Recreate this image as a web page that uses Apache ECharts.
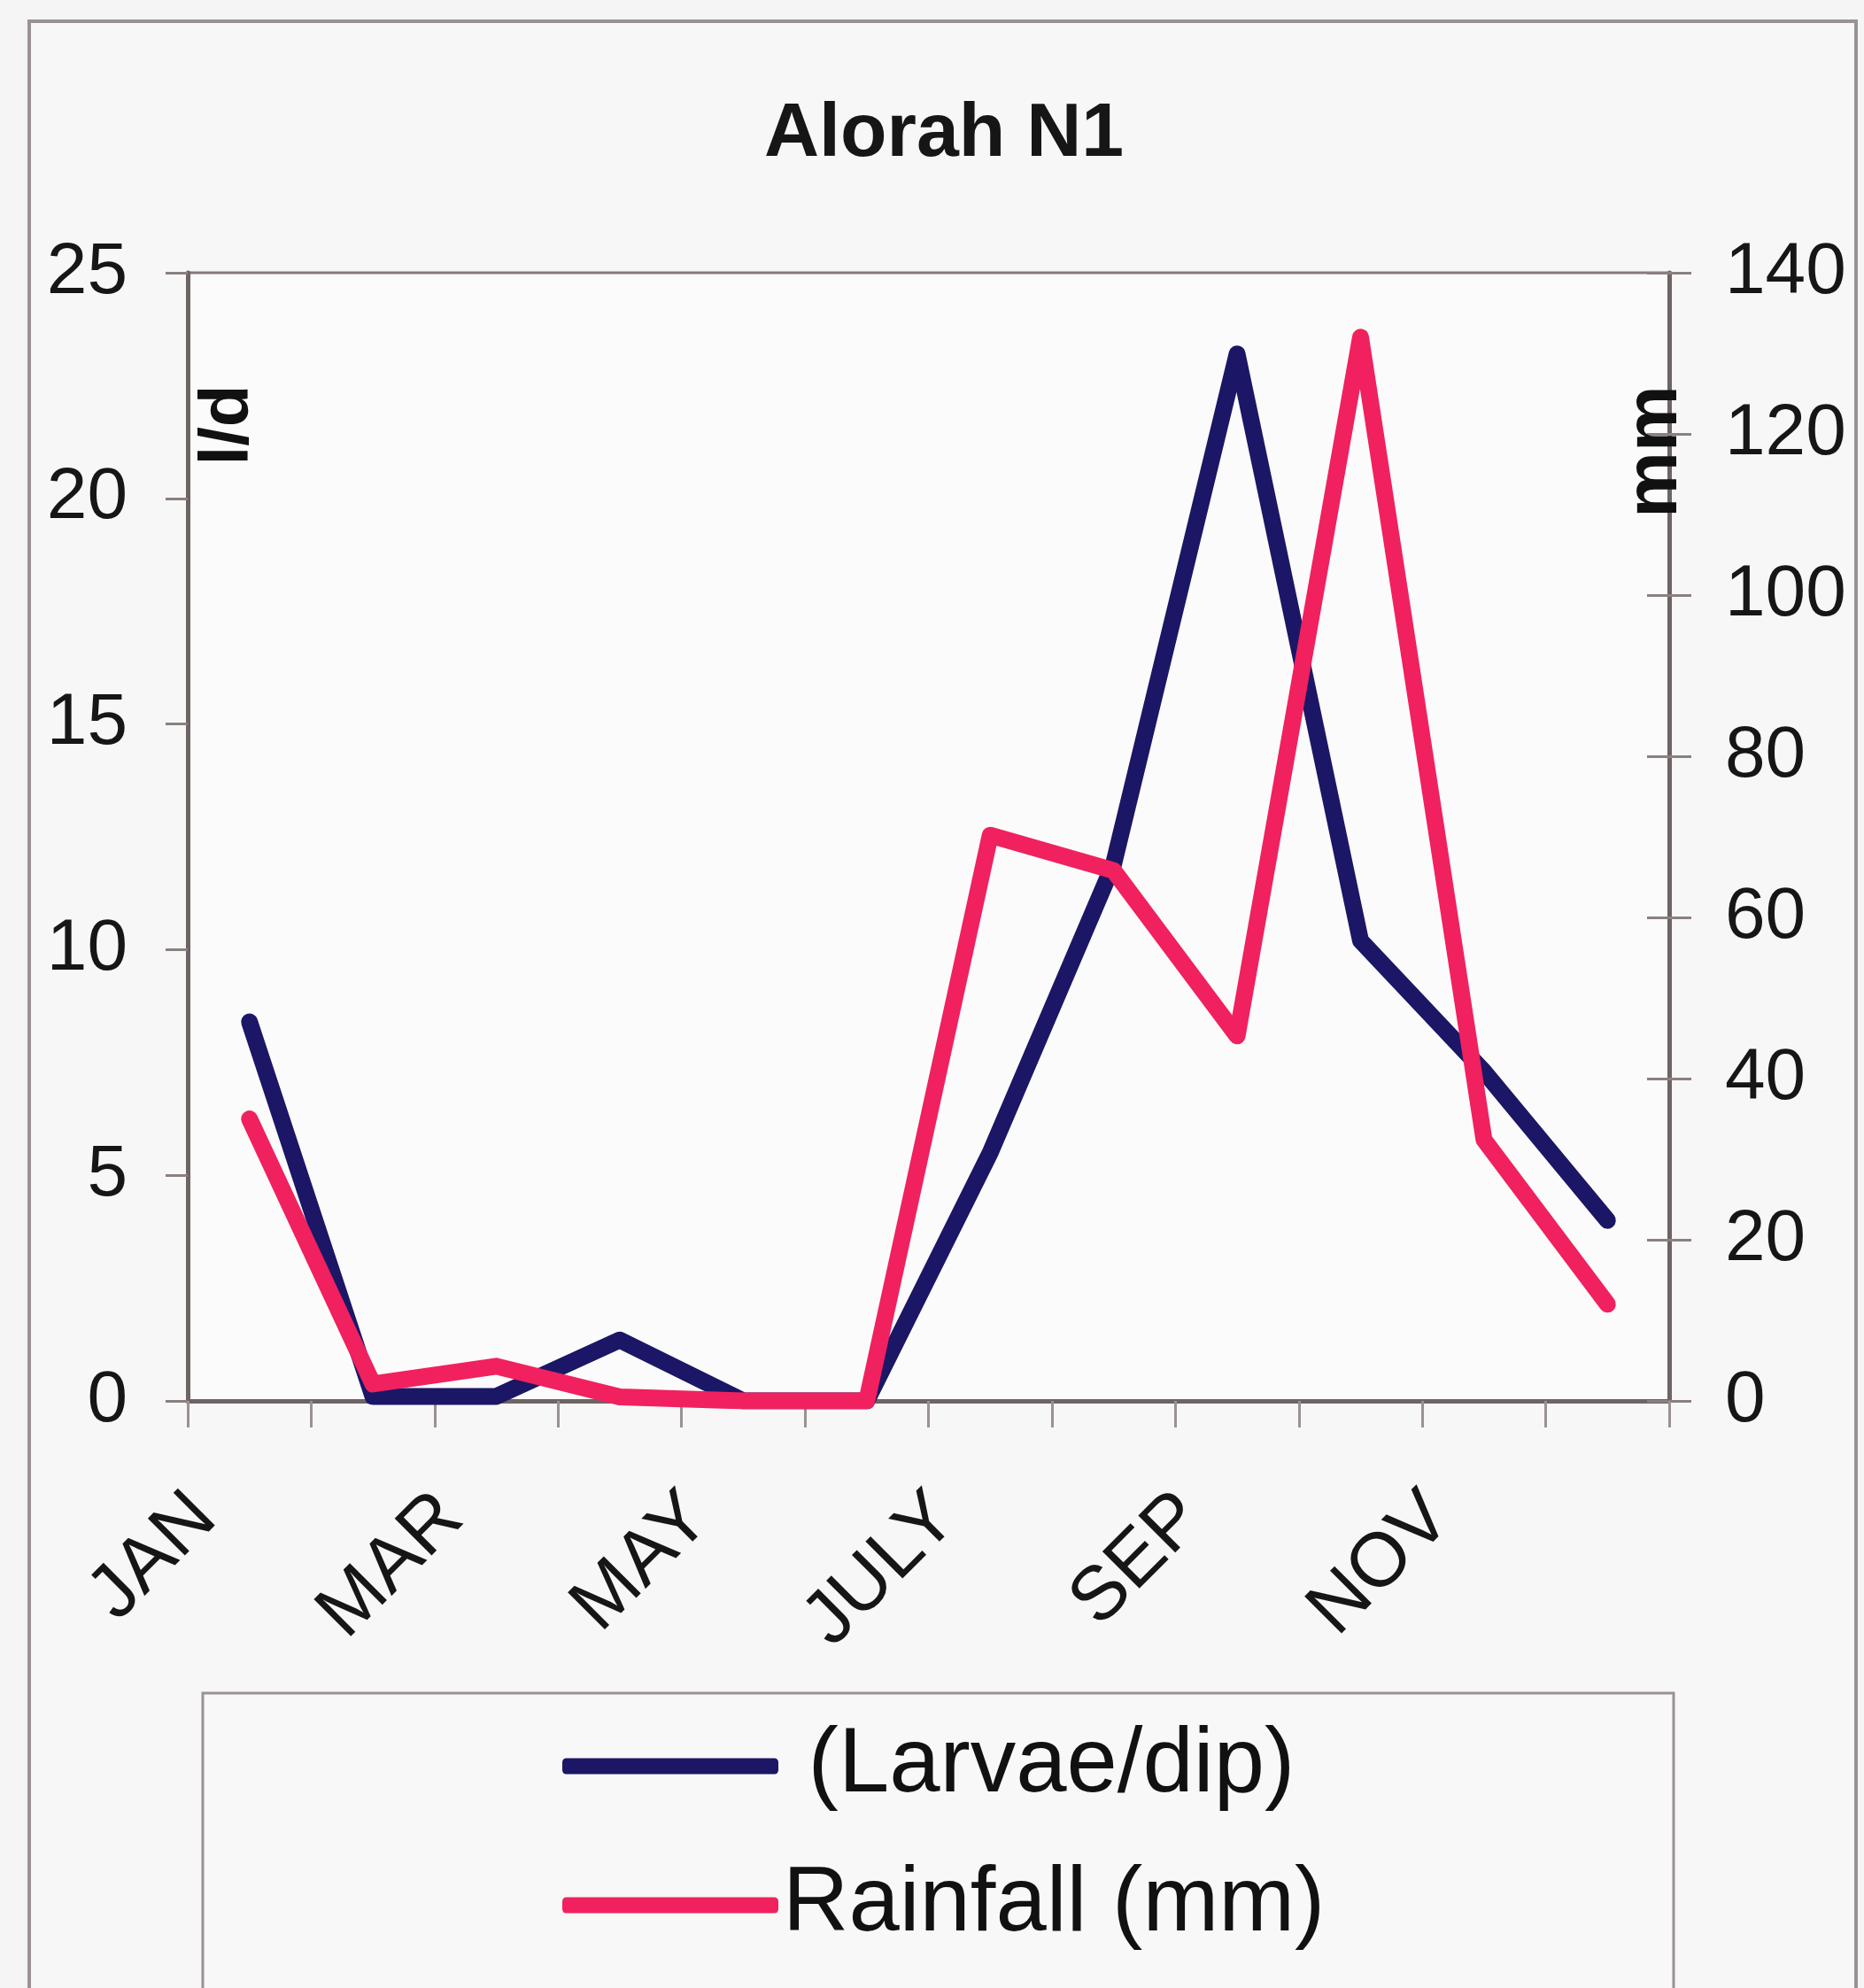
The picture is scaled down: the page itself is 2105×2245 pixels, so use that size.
<!DOCTYPE html>
<html>
<head>
<meta charset="utf-8">
<script src="https://cdn.jsdelivr.net/npm/echarts@6/dist/echarts.min.js"></script>
<style>
html,body{margin:0;padding:0;background:#f6f5f5;}
#chart{width:2105px;height:2245px;}
</style>
</head>
<body>
<div id="chart"></div>
<script>
var months = ['JAN','FEB','MAR','APR','MAY','JUNE','JULY','AUG','SEP','OCT','NOV','DEC'];
var larvae = [8.4, 0.1, 0.1, 1.35, 0, 0, 5.5, 11.9, 23.2, 10.2, 7.3, 4.0];
var rainfall = [35, 2.1, 4.3, 0.5, 0, 0, 70.2, 65.8, 45.3, 132, 32.4, 12];
var leftTicks = [0, 5, 10, 15, 20, 25];
var rightTicks = [0, 20, 40, 60, 80, 100, 120, 140];
var larvaeName = ' (Larvae/dip)';
var rainName = 'Rainfall (mm)';

var FONT = '"Liberation Sans", Arial, sans-serif';
var chart = echarts.init(document.getElementById('chart'), null, {renderer: 'canvas'});
chart.setOption({
  backgroundColor: '#f6f5f5',
  animation: false,
  title: {
    text: 'Alorah N1',
    left: 858, top: 104,
    textStyle: {fontFamily: FONT, fontSize: 86, fontWeight: 'bold', color: '#161616'}
  },
  graphic: [
    {type: 'rect', z: -10, shape: {x: 33, y: 24, width: 2063, height: 2260},
     style: {fill: '#f8f7f7', stroke: '#9a9292', lineWidth: 4}},
    {type: 'rect', z: -5, shape: {x: 229, y: 1912, width: 1661, height: 400},
     style: {fill: '#f9f8f8', stroke: '#9a9292', lineWidth: 3}},
    {type: 'text', z: 10, x: 258, y: 480, rotation: Math.PI / 2,
     style: {text: 'l/d', fontFamily: FONT, fontSize: 78, fontWeight: 'bold', fill: '#111',
             textAlign: 'center', textVerticalAlign: 'middle'}},
    {type: 'text', z: 10, x: 1870, y: 510, rotation: Math.PI / 2,
     style: {text: 'mm', fontFamily: FONT, fontSize: 84, fontWeight: 'bold', fill: '#111',
             textAlign: 'center', textVerticalAlign: 'middle'}}
  ],
  legend: {
    orient: 'vertical',
    left: 630, top: 1938,
    itemWidth: 244, itemHeight: 18, itemGap: 54,
    icon: 'roundRect',
    data: [larvaeName, rainName],
    textStyle: {fontFamily: FONT, fontSize: 103, color: '#111', lineHeight: 103}
  },
  grid: {
    left: 212, right: 220, top: 308, bottom: 663,
    show: true, borderColor: '#857b7b', borderWidth: 3, backgroundColor: '#fcfbfb'
  },
  xAxis: {
    type: 'category',
    data: months,
    boundaryGap: true,
    axisLine: {lineStyle: {color: '#6e6464', width: 5}},
    axisTick: {show: true, length: 30, interval: 0, lineStyle: {color: '#9a9292', width: 3}},
    axisLabel: {interval: 1, rotate: 45, margin: 68, padding: [0, 72, 0, 0],
                fontFamily: FONT, fontSize: 86, color: '#161616'}
  },
  yAxis: [
    {
      type: 'value', min: leftTicks[0], max: leftTicks[leftTicks.length - 1], interval: 5,
      position: 'left',
      splitLine: {show: false},
      axisLine: {show: true, lineStyle: {color: '#6e6464', width: 5}},
      axisTick: {show: true, length: 25, lineStyle: {color: '#8a8080', width: 3}},
      axisLabel: {margin: 68, fontFamily: FONT, fontSize: 82, color: '#161616'}
    },
    {
      type: 'value', min: rightTicks[0], max: rightTicks[rightTicks.length - 1], interval: 20,
      position: 'right',
      splitLine: {show: false},
      axisLine: {show: true, lineStyle: {color: '#6e6464', width: 5}},
      axisTick: {show: true, length: 25, lineStyle: {color: '#8a8080', width: 3}},
      axisLabel: {margin: 63, fontFamily: FONT, fontSize: 82, color: '#161616'}
    },
    {
      type: 'value', min: rightTicks[0], max: rightTicks[rightTicks.length - 1], interval: 20,
      position: 'right',
      splitLine: {show: false},
      axisLine: {show: false},
      axisTick: {show: true, inside: true, length: 25, lineStyle: {color: '#8a8080', width: 3}},
      axisLabel: {show: false}
    }
  ],
  series: [
    {
      name: larvaeName, type: 'line', yAxisIndex: 0, data: larvae,
      symbol: 'none', color: '#1b1766',
      lineStyle: {width: 19, color: '#1b1766', cap: 'round', join: 'round'}
    },
    {
      name: rainName, type: 'line', yAxisIndex: 1, data: rainfall,
      symbol: 'none', color: '#f0215e',
      lineStyle: {width: 19, color: '#f0215e', cap: 'round', join: 'round'}
    }
  ]
});
</script>
</body>
</html>
